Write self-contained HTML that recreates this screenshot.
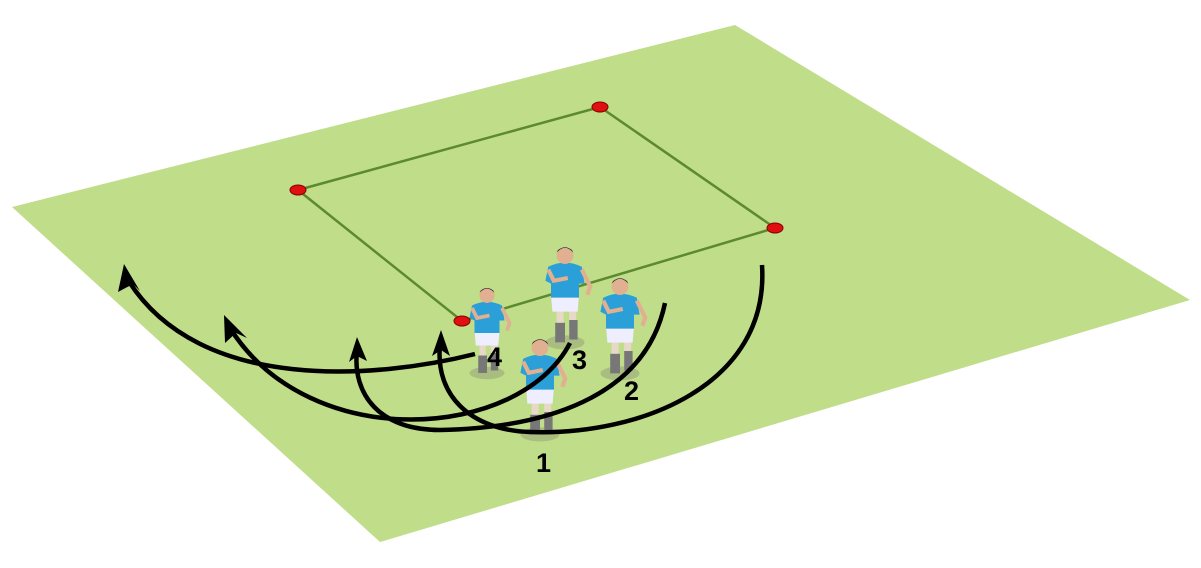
<!DOCTYPE html>
<html><head><style>body{margin:0;background:#fff}svg{display:block}</style></head><body>
<svg width="1201" height="568" viewBox="0 0 1201 568" xmlns="http://www.w3.org/2000/svg">
<defs>
<g id="pl">
<ellipse cx="0" cy="56" rx="14" ry="5" fill="#9aa87a" opacity="0.6"/>
<rect x="-6" y="30" width="5" height="26" fill="#e8d8c8"/><rect x="3" y="30" width="5" height="24" fill="#e8d8c8"/>
<rect x="-7" y="42" width="7" height="14" fill="#777"/><rect x="3" y="40" width="6" height="14" fill="#777"/>
<path d="M-10,22 L10,22 L9,34 L-9,34Z" fill="#eef"/>
<path d="M-12,2 Q0,-4 12,2 L14,14 L10,14 L10,24 L-10,24 L-10,14 L-14,12Z" fill="#2a9fd8"/>
<path d="M12,4 L18,16 L16,22" stroke="#e0b090" stroke-width="3" fill="none"/>
<path d="M-12,4 L-8,12 L2,10" stroke="#e0b090" stroke-width="3" fill="none"/>
<circle cx="0" cy="-6" r="6" fill="#e0b090"/><path d="M-6,-8 Q0,-15 6,-8 L5,-10 Q0,-14 -5,-10Z" fill="#333"/>
</g>
</defs>
<polygon points="12,207 735,25 1190,300 380,542" fill="#c0dd8a"/>
<polygon points="298,190 600,107 775,228 462,321" fill="none" stroke="#5e8a2e" stroke-width="2.5"/>
<g fill="#e01010" stroke="#800" stroke-width="1">
<ellipse cx="298" cy="190" rx="8" ry="5"/><ellipse cx="600" cy="107" rx="8" ry="5"/><ellipse cx="775" cy="228" rx="8" ry="5"/><ellipse cx="462" cy="321" rx="8" ry="5"/></g>
<use href="#pl" transform="translate(565,264) scale(1.4)"/>
<use href="#pl" transform="translate(620,295) scale(1.4)"/>
<use href="#pl" transform="translate(487,303) scale(1.25)"/>
<use href="#pl" transform="translate(540,356) scale(1.4)"/>
<g fill="none" stroke="#000" stroke-width="4.5">
<path d="M475,354 C380,378 200,395 128,280"/>
<path d="M570,343 C520,440 310,455 230,328"/>
<path d="M665,303 C645,400 540,428 440,430 C380,430 352,395 357,350"/>
<path d="M762,265 C770,385 640,436 530,432 C470,430 435,395 440,345"/>
</g>
<g fill="#000">
<polygon points="124,264 118,292 133,284 140,291"/>
<polygon points="224,315 225,343 236,333 247,338"/>
<polygon points="357,337 349,362 357,356 367,361"/>
<polygon points="441,330 432,356 441,350 450,356"/>
</g>
<g font-family="Liberation Sans, sans-serif" font-weight="bold" font-size="27" fill="#000">
<text x="487" y="366">4</text><text x="572" y="369">3</text><text x="624" y="400">2</text><text x="536" y="472">1</text>
</g>
</svg>
</body></html>
